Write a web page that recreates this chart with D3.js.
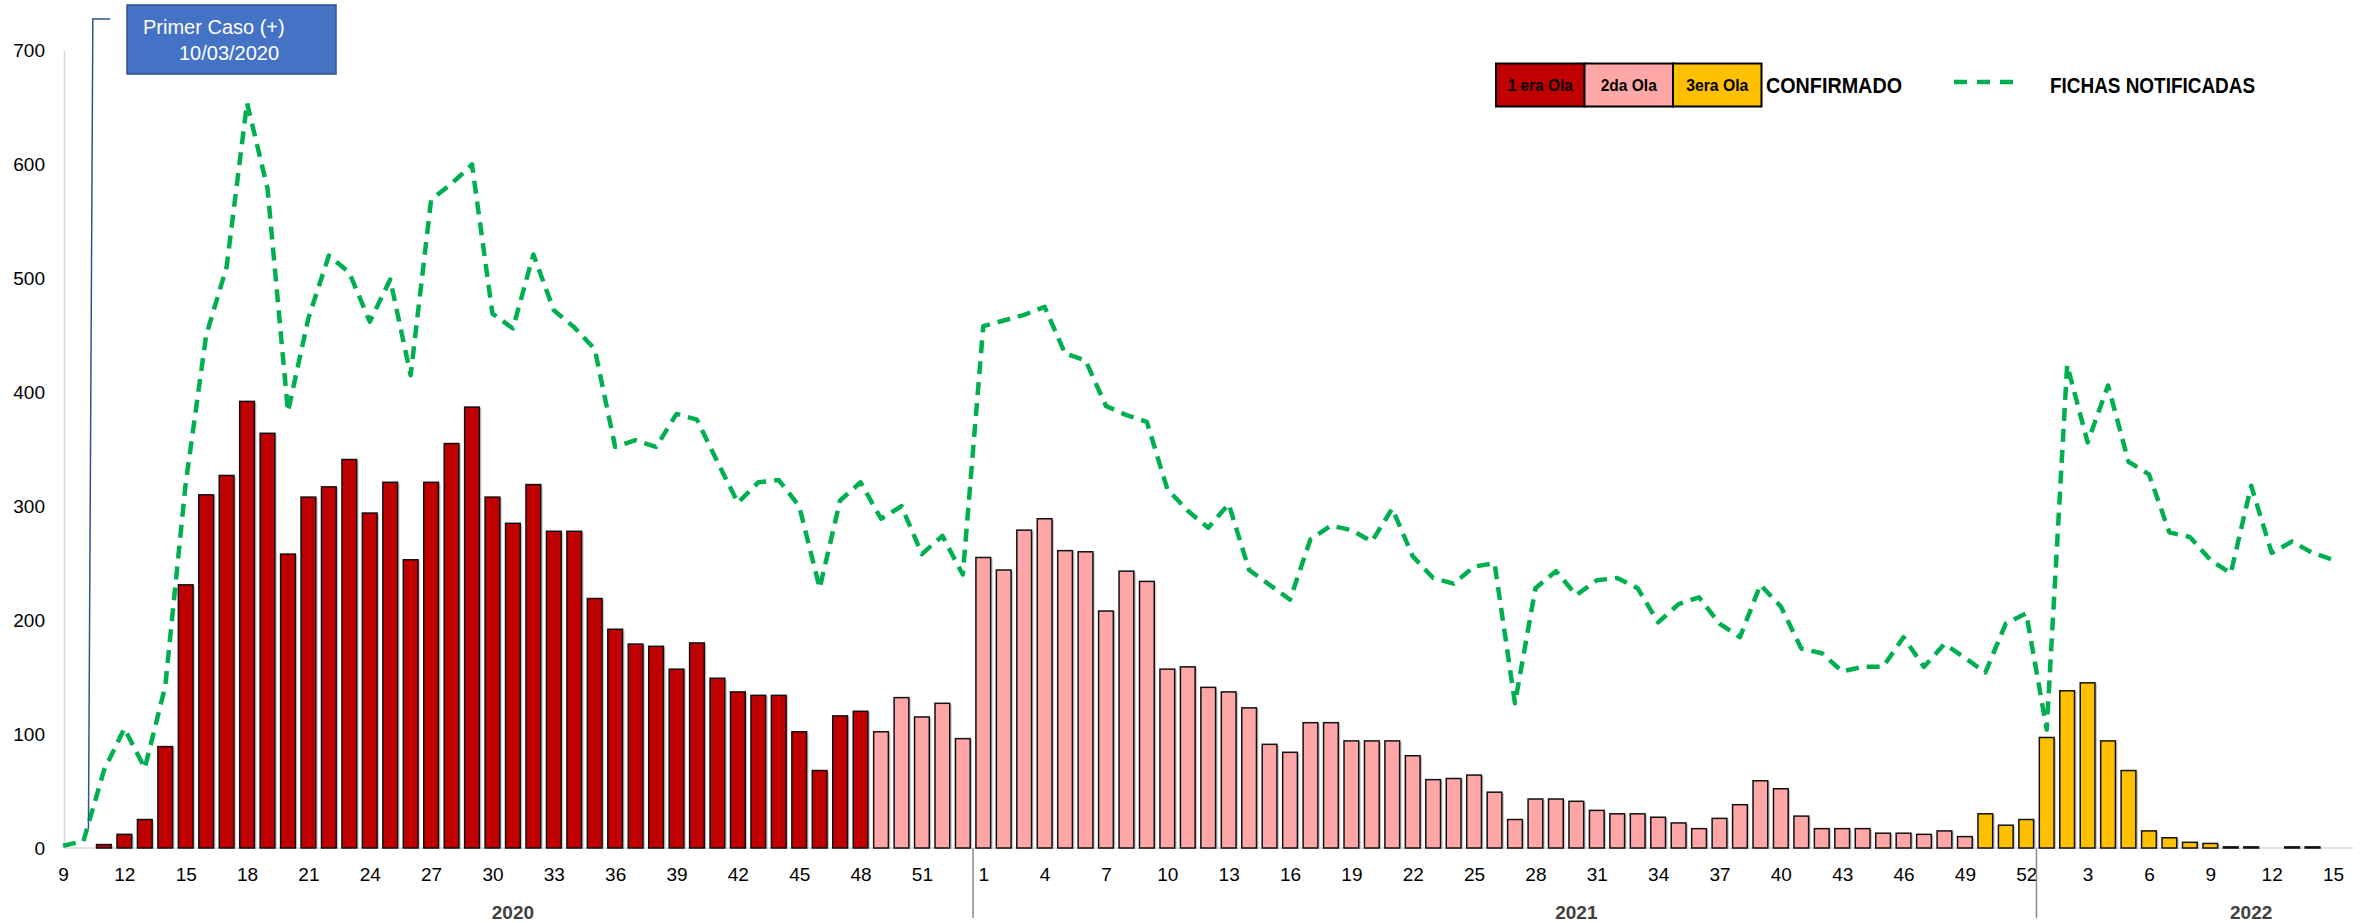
<!DOCTYPE html>
<html>
<head>
<meta charset="utf-8">
<script src="https://cdn.jsdelivr.net/npm/d3@7"></script>
<style>
  body { margin: 0; background: #fff; }
  svg { display: block; }
  .num { font-family: "Liberation Sans", Arial, sans-serif; }
</style>
</head>
<body>
<div id="chart"></div>
<script>
// epidemiological weeks shown per year
const weeks2020 = d3.range(9, 54)
const weeks2021 = d3.range(1, 53)
const weeks2022 = d3.range(1, 16)

// CONFIRMADO (weekly confirmed cases)
const conf2020 = [0, 0, 3, 12, 25, 89, 231, 310, 327, 392,
  364, 258, 308, 317, 341, 294, 321, 253, 321, 355,
  387, 308, 285, 319, 278, 278, 219, 192, 179, 177,
  157, 180, 149, 137, 134, 134, 102, 68, 116, 120,
  102, 132, 115, 127, 96]
const conf2021 = [255, 244, 279, 289, 261, 260, 208, 243, 234, 157,
  159, 141, 137, 123, 91, 84, 110, 110, 94, 94,
  94, 81, 60, 61, 64, 49, 25, 43, 43, 41,
  33, 30, 30, 27, 22, 17, 26, 38, 59, 52,
  28, 17, 17, 17, 13, 13, 12, 15, 10, 30,
  20, 25]
const conf2022 = [97, 138, 145, 94, 68, 15, 9, 5, 4, 1, 1, 0, 1, 1, 0]

// FICHAS NOTIFICADAS
const fichas2020 = [2, 6, 68, 105, 70, 142, 320, 450, 510, 654,
  579, 383, 465, 520, 505, 462, 499, 415, 569, 583,
  600, 469, 456, 521, 472, 457, 438, 352, 358, 352,
  381, 376, 339, 303, 321, 323, 300, 228, 305, 321,
  289, 300, 258, 274, 240]
const fichas2021 = [458, 463, 468, 475, 434, 428, 388, 380, 374, 315,
  296, 281, 302, 244, 231, 218, 271, 283, 279, 269,
  298, 256, 237, 232, 247, 250, 127, 228, 243, 222,
  235, 237, 228, 198, 214, 220, 197, 185, 231, 212,
  175, 171, 155, 159, 159, 185, 159, 179, 167, 154,
  197, 206]
const fichas2022 = [104, 424, 356, 406, 339, 328, 277, 273, 253, 241, 318, 259, 269, 259, 253]

// waves: first week of each wave
const waveNames = ["1 era Ola", "2da Ola", "3era Ola"]
const waveStarts = ["2020-9", "2020-49", "2021-50"]
const waveColors = ["#C00000", "#FFA7A7", "#FFC000"]

const yTicks = [0, 100, 200, 300, 400, 500, 600, 700]
const years = [2020, 2021, 2022]
const yearLabelAt = ["2020-31", "2021-30", "2022-11"]

const annotation = ["Primer Caso (+)", "10/03/2020"]
const annotationWeek = "2020-10"

// build rows
const rows = []
const addYear = function(year, weeks, conf, fichas) {
  weeks.forEach((w, i) => rows.push({ key: year + "-" + w, year: year, week: w, conf: conf[i], fichas: fichas[i] }))
}
addYear(2020, weeks2020, conf2020, fichas2020)
addYear(2021, weeks2021, conf2021, fichas2021)
addYear(2022, weeks2022, conf2022, fichas2022)

const keys = rows.map(d => d.key)
const waveStartIdx = waveStarts.map(k => keys.indexOf(k))
const waveOf = i => d3.bisectRight(waveStartIdx, i) - 1

const width = 2366, height = 923

const x = d3.scalePoint()
  .domain(keys)
  .range([63, 2333])

const y = d3.scaleLinear()
  .domain([0, 700])
  .range([848, 50.5])

const svg = d3.select("#chart")
  .append("svg")
    .attr("width", width)
    .attr("height", height)

svg.append("rect").attr("width", width).attr("height", height).attr("fill", "#fff")

// y axis
const gy = svg.append("g")
    .attr("class", "num")
    .attr("transform", `translate(${x.range()[0] + 1},0)`)
    .call(d3.axisLeft(y).tickValues(yTicks).tickSize(0).tickPadding(19))
gy.select(".domain").attr("stroke", "#d9d9d9").attr("stroke-width", 1.5)
gy.selectAll("text").attr("font-size", 19).attr("fill", "#000").attr("font-family", null)

// x axis
const gx = svg.append("g")
    .attr("class", "num")
    .attr("transform", `translate(0,${y(0)})`)
    .call(d3.axisBottom(x)
      .tickValues(keys.filter((k, i) => i % 3 === 0))
      .tickFormat(k => k.split("-")[1])
      .tickSize(0).tickPadding(20))
gx.select(".domain").remove()
gx.selectAll("text").attr("font-size", 19).attr("fill", "#000").attr("font-family", null)
gx.append("line")
    .attr("x1", x.range()[0] + 1)
    .attr("x2", x.range()[1] + x.step())
    .attr("stroke", "#d9d9d9")
    .attr("stroke-width", 1.5)

// year separators and labels
const sepKeys = [["2020-53", "2021-1"], ["2021-52", "2022-1"]]
svg.append("g")
  .selectAll("line")
  .data(sepKeys)
  .enter().append("line")
    .attr("x1", d => (x(d[0]) + x(d[1])) / 2)
    .attr("x2", d => (x(d[0]) + x(d[1])) / 2)
    .attr("y1", y(0))
    .attr("y2", y(0) + 70)
    .attr("stroke", "#8c8c8c")
    .attr("stroke-width", 1.5)

svg.append("g")
    .attr("class", "num")
  .selectAll("text")
  .data(years)
  .enter().append("text")
    .attr("x", (d, i) => x(yearLabelAt[i]))
    .attr("y", 919)
    .attr("text-anchor", "middle")
    .attr("font-size", 19)
    .attr("font-weight", "bold")
    .attr("fill", "#404040")
    .text(d => d)

// bars
const barW = x.step() * 0.72
const bars = rows.map((d, i) => Object.assign({ wave: waveOf(i) }, d)).filter(d => d.conf > 0)

svg.append("g")
  .selectAll("rect")
  .data(bars)
  .enter().append("rect")
    .attr("x", d => x(d.key) - barW / 2 + 2)
    .attr("y", d => y(d.conf) + 1)
    .attr("width", barW)
    .attr("height", d => y(0) - y(d.conf))
    .attr("fill", "#c8c8c8")

svg.append("g")
  .selectAll("rect")
  .data(bars)
  .enter().append("rect")
    .attr("x", d => x(d.key) - barW / 2)
    .attr("y", d => y(d.conf))
    .attr("width", barW)
    .attr("height", d => y(0) - y(d.conf))
    .attr("fill", d => waveColors[d.wave])
    .attr("stroke", "#111")
    .attr("stroke-width", 1.5)

// fichas line
const line = d3.line()
  .x(d => x(d.key))
  .y(d => y(d.fichas))

svg.append("path")
    .datum(rows)
    .attr("d", line)
    .attr("fill", "none")
    .attr("stroke", "#00B050")
    .attr("stroke-width", 4.5)
    .attr("stroke-dasharray", "13,8")
    .attr("stroke-linejoin", "round")

// annotation
const ax = x(annotationWeek) + 5
svg.append("polyline")
    .attr("points", [[110, 19], [ax + 4.4, 19], [ax, y(17)]].map(p => p.join(",")).join(" "))
    .attr("fill", "none")
    .attr("stroke", "#2F528F")
    .attr("stroke-width", 1.5)

svg.append("rect")
    .attr("x", 127).attr("y", 5)
    .attr("width", 209).attr("height", 69)
    .attr("fill", "#4472C4")
    .attr("stroke", "#2F528F")
    .attr("stroke-width", 1.5)

svg.append("g")
    .attr("class", "num")
  .selectAll("text")
  .data(annotation)
  .enter().append("text")
    .attr("x", (d, i) => i === 0 ? 143 : 179)
    .attr("y", (d, i) => i === 0 ? 34 : 60)
    .attr("font-size", 20)
    .attr("fill", "#fff")
    .text(d => d)

// legend (Calibri-like condensed text via textLength)
const legend = svg.append("g").attr("class", "num")
const boxW = 88.5
const waveTextW = [65, 56, 62]
legend.selectAll("rect")
  .data(waveNames)
  .enter().append("rect")
    .attr("x", (d, i) => 1496 + i * boxW)
    .attr("y", 63.5)
    .attr("width", boxW)
    .attr("height", 43)
    .attr("fill", (d, i) => waveColors[i])
    .attr("stroke", "#000")
    .attr("stroke-width", 2)

legend.selectAll("text.wave")
  .data(waveNames)
  .enter().append("text")
    .attr("class", "wave")
    .attr("x", (d, i) => 1496 + i * boxW + (boxW - waveTextW[i]) / 2)
    .attr("y", 91)
    .attr("font-size", 17)
    .attr("font-weight", "bold")
    .attr("fill", "#000")
    .attr("textLength", (d, i) => waveTextW[i])
    .attr("lengthAdjust", "spacingAndGlyphs")
    .text(d => d)

legend.append("text")
    .attr("x", 1766)
    .attr("y", 93)
    .attr("font-size", 22)
    .attr("font-weight", "bold")
    .attr("textLength", 136)
    .attr("lengthAdjust", "spacingAndGlyphs")
    .text("CONFIRMADO")

legend.append("line")
    .attr("x1", 1954).attr("x2", 2013)
    .attr("y1", 82).attr("y2", 82)
    .attr("stroke", "#00B050")
    .attr("stroke-width", 4.5)
    .attr("stroke-dasharray", "13,10")

legend.append("text")
    .attr("x", 2050)
    .attr("y", 93)
    .attr("font-size", 22)
    .attr("font-weight", "bold")
    .attr("textLength", 205)
    .attr("lengthAdjust", "spacingAndGlyphs")
    .text("FICHAS NOTIFICADAS")
</script>
</body>
</html>
